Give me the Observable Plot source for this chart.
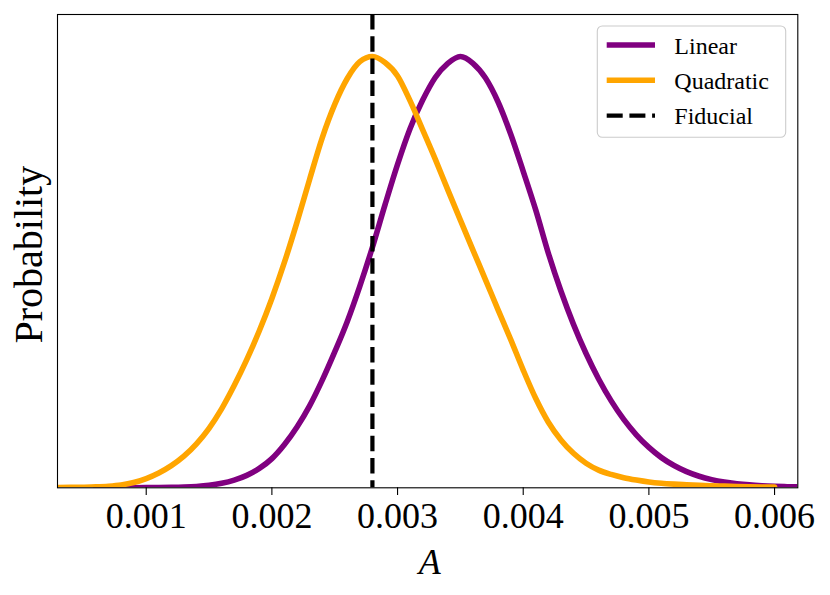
<!DOCTYPE html>
<html><head><meta charset="utf-8">
<script src="https://cdn.jsdelivr.net/npm/d3@7"></script>
<script src="https://cdn.jsdelivr.net/npm/@observablehq/plot@0.6"></script>
<style>html,body{margin:0;padding:0;background:#fff;} #chart{width:830px;height:595px;}</style>
</head><body><div id="chart"></div>
<script>
// Parameter A values (x grid)
const aValues = [0.0002,0.0003,0.0004,0.0005,0.0006,0.0007,0.0008,0.0009,0.0010,0.0011,
  0.0012,0.0013,0.0014,0.0015,0.0016,0.0017,0.0018,0.0019,0.0020,0.0021,
  0.0022,0.0023,0.0024,0.0025,0.0026,0.0027,0.0028,0.0029,0.0030,0.0031,
  0.0032,0.0033,0.0034,0.0035,0.0036,0.0037,0.0038,0.0039,0.0040,0.0041,
  0.0042,0.0043,0.0044,0.0045,0.0046,0.0047,0.0048,0.0049,0.0050,0.0051,
  0.0052,0.0053,0.0054,0.0055,0.0056,0.0057,0.0058,0.0059,0.0060,0.0061,0.0062];
// Linear model probability (normalised to peak 1)
const linear = [null,null,null,null,0.0001,0.0001,0.0002,0.0002,0.0003,0.0005,
  0.0009,0.0017,0.0032,0.0059,0.0105,0.0179,0.0289,0.0449,0.0677,0.1004,
  0.141,0.1899,0.249,0.315,0.3858,0.4677,0.5578,0.656,0.750,0.8333,
  0.8989,0.9513,0.984,1.0,0.9842,0.95,0.8945,0.8203,0.7338,0.6439,
  0.5439,0.4562,0.379,0.3113,0.2523,0.2015,0.1585,0.1228,0.0936,0.070,
  0.0516,0.0375,0.0268,0.019,0.0134,0.0095,0.0067,0.0048,0.0035,0.0026,0.002];
// Quadratic model probability (normalised to peak 1)
const quadratic = [0.0004,0.0006,0.0009,0.0014,0.0022,0.0037,0.0066,0.0122,0.0215,0.0345,
  0.0515,0.0735,0.102,0.138,0.183,0.237,0.297,0.364,0.439,0.523,
  0.616,0.715,0.811,0.889,0.949,0.988,1.0,0.986,0.955,0.897,
  0.830,0.7621,0.6907,0.6205,0.5511,0.4823,0.4127,0.3441,0.2729,0.2069,
  0.152,0.111,0.080,0.057,0.041,0.031,0.0235,0.018,0.0135,0.0105,
  0.0085,0.007,0.0057,0.0047,0.0038,0.0031,0.0025,0.002,0.0016,null,null];
const fiducial = [0.0028];
const xTicks = [0.001,0.002,0.003,0.004,0.005,0.006];
const legendLabels = ["Linear","Quadratic","Fiducial"];
const legendColors = ["purple","orange","black"];
const legendDash = [null,null,"16,6.7"];
const legendWidths = [5.6,5.6,4.2];

const linearRows = aValues.map((a,i)=>({a, p: linear[i]}));
const quadRows = aValues.map((a,i)=>({a, p: quadratic[i]}));

function legendMark(index, scales, values, dims) {
  const g = d3.create("svg:g");
  const w = 188.4, h = 111.3;
  const right = dims.width - dims.marginRight - 11.6;
  const top = dims.marginTop + 12;
  const left = right - w;
  g.append("rect").attr("x", left).attr("y", top).attr("width", w).attr("height", h)
    .attr("rx", 5).attr("fill", "white").attr("fill-opacity", 0.8)
    .attr("stroke", "#cccccc").attr("stroke-width", 1.1);
  legendLabels.forEach((lab, i) => {
    const cy = top + 19 + i * 35.3;
    const ln = g.append("line").attr("x1", left + 9.4).attr("x2", left + 57.7)
      .attr("y1", cy).attr("y2", cy).attr("stroke", legendColors[i])
      .attr("stroke-width", legendWidths[i]);
    if (legendDash[i]) ln.attr("stroke-dasharray", legendDash[i]);
    g.append("text").attr("x", left + 77).attr("y", cy + 8.5).text(lab)
      .attr("text-anchor", "start").attr("dominant-baseline", "alphabetic")
      .attr("font-family", "Liberation Serif").attr("font-size", 24).attr("fill", "black");
  });
  return g.node();
}

const chart = Plot.plot({
  width: 830, height: 595,
  marginLeft: 57, marginRight: 32.7, marginTop: 14, marginBottom: 107.7,
  x: {domain: [0.000294, 0.006185]},
  y: {domain: [0, 1.0974], axis: null},
  style: {fontFamily: "Liberation Serif", fontSize: "36px", background: "white", color: "black", overflow: "visible"},
  marks: [
    Plot.line(linearRows, {x: "a", y: "p", stroke: "purple", strokeWidth: 5.6, curve: "monotone-x", clip: true}),
    Plot.line(quadRows, {x: "a", y: "p", stroke: "orange", strokeWidth: 5.6, curve: "monotone-x", clip: true}),
    Plot.ruleX(fiducial, {stroke: "black", strokeWidth: 4.2, strokeDasharray: "15.5,6.7"}),
    Plot.frame({stroke: "black", strokeWidth: 1.1}),
    Plot.axisX(xTicks, {tickFormat: d3.format(".3f"), tickSize: 7.7, tickPadding: 6.7, fontSize: 36, strokeWidth: 1.1, label: null}),
    Plot.text(["Probability"], {frameAnchor: "left", textAnchor: "middle", rotate: -90, dx: -15.3, dy: 3.5, lineAnchor: "bottom", fontSize: 40, text: d => d}),
    Plot.text(["A"], {frameAnchor: "bottom", textAnchor: "middle", dy: 86, dx: 2, lineAnchor: "bottom", fontSize: 36, fontStyle: "italic", text: d => d}),
    legendMark
  ]
});
document.getElementById("chart").appendChild(chart);
</script>
</body></html>
